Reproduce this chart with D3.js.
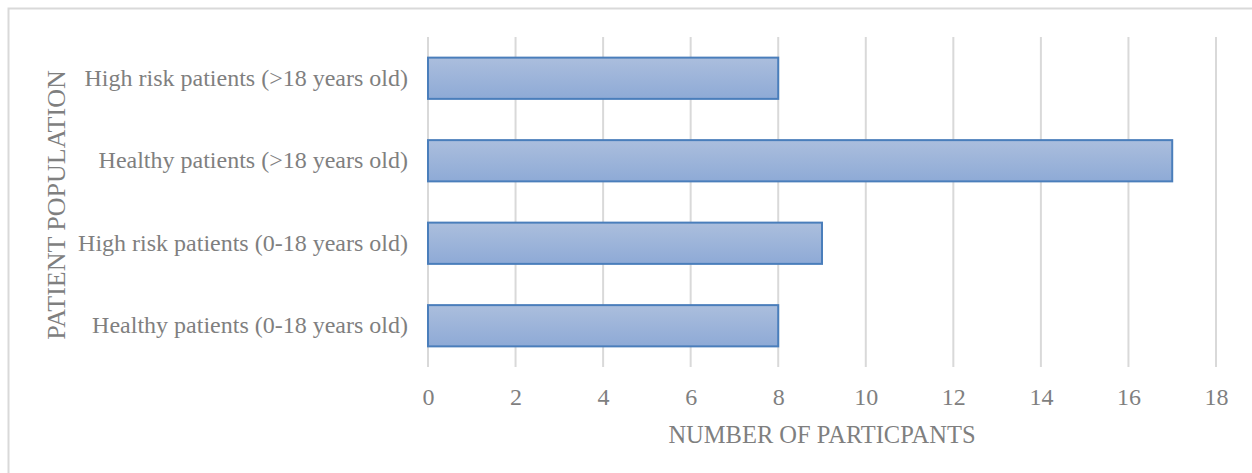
<!DOCTYPE html>
<html>
<head>
<meta charset="utf-8">
<script src="https://cdn.jsdelivr.net/npm/d3@7"></script>
<style>
  body { margin: 0; background: #fff; }
  text { font-family: "Liberation Serif", "Times New Roman", serif; fill: #7f7f7f; }
</style>
</head>
<body>
<div class="chart"></div>
<script>
const width = 1252;
const height = 473;

// data, top to bottom as in the picture
const categories = [
  'High risk patients (>18 years old)',
  'Healthy patients (>18 years old)',
  'High risk patients (0-18 years old)',
  'Healthy patients (0-18 years old)'
];
const participants = [8, 17, 9, 8];
const xTicks = [0, 2, 4, 6, 8, 10, 12, 14, 16, 18];

const margin = {top: 37, right: 36, bottom: 106, left: 428};
const fontSize = 24;

const svg = d3.select('.chart')
  .append('svg')
  .attr('width', width)
  .attr('height', height);

// outer chart border (runs off right/bottom edge)
svg.append('rect')
  .attr('x', 8.5).attr('y', 8.5)
  .attr('width', 1260).attr('height', 480)
  .attr('fill', 'none')
  .attr('stroke', '#d9d9d9')
  .attr('stroke-width', 2);

const defs = svg.append('defs');
const grad = defs.append('linearGradient')
  .attr('id', 'barGrad')
  .attr('x1', 0).attr('y1', 0).attr('x2', 0).attr('y2', 1);
grad.append('stop').attr('offset', '0%').attr('stop-color', '#abbedd');
grad.append('stop').attr('offset', '100%').attr('stop-color', '#8eaad6');

const x = d3.scaleLinear()
  .domain([0, 18])
  .range([margin.left, width - margin.right]);

const y = d3.scaleBand()
  .domain(categories)
  .range([margin.top, height - margin.bottom])
  .paddingInner(0.5)
  .paddingOuter(0.25);

// gridlines
svg.selectAll('.grid')
  .data(xTicks)
  .enter()
  .append('line')
  .attr('x1', d => x(d)).attr('x2', d => x(d))
  .attr('y1', margin.top).attr('y2', height - margin.bottom)
  .attr('stroke', '#d9d9d9')
  .attr('stroke-width', 2);

// bars
svg.selectAll('.bar')
  .data(categories)
  .enter()
  .append('rect')
  .attr('x', x(0))
  .attr('y', d => y(d))
  .attr('width', (d, i) => x(participants[i]) - x(0))
  .attr('height', y.bandwidth())
  .attr('fill', 'url(#barGrad)')
  .attr('stroke', '#4a7ebb')
  .attr('stroke-width', 2);

// x axis labels
const xAxis = d3.axisBottom(x).tickValues(xTicks).tickSize(0).tickPadding(21);
const gx = svg.append('g')
  .attr('transform', 'translate(0,' + (height - margin.bottom) + ')')
  .call(xAxis);
gx.select('.domain').remove();
gx.selectAll('text')
  .attr('font-size', fontSize)
  .attr('font-family', null)
  .attr('fill', null);

// y axis labels
const yAxis = d3.axisLeft(y).tickSize(0).tickPadding(20);
const gy = svg.append('g')
  .attr('transform', 'translate(' + margin.left + ',0)')
  .call(yAxis);
gy.select('.domain').remove();
gy.selectAll('text')
  .attr('font-size', fontSize)
  .attr('font-family', null)
  .attr('fill', null);

// axis titles
svg.append('text')
  .attr('x', (x(0) + x(18)) / 2)
  .attr('y', 443)
  .attr('text-anchor', 'middle')
  .attr('font-size', 24.5)
  .text('NUMBER OF PARTICPANTS');

svg.append('text')
  .attr('transform', 'translate(56,205) rotate(-90)')
  .attr('text-anchor', 'middle')
  .attr('dy', '0.35em')
  .attr('font-size', 26)
  .text('PATIENT POPULATION');
</script>
</body>
</html>
